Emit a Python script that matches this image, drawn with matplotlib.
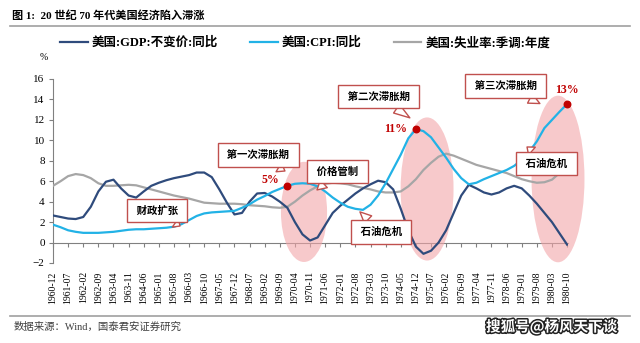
import numpy as np
import matplotlib
matplotlib.use("Agg")
import matplotlib.pyplot as plt
from matplotlib.patches import Ellipse
from matplotlib.lines import Line2D
import matplotlib.patheffects as pe

plt.rcParams['font.family'] = ['Liberation Serif', 'Noto Sans CJK SC', 'DejaVu Sans']

# tick labels, one every 7 months; series read at every half tick
tick_labels = [
    "1960-12", "1961-07", "1962-02", "1962-09", "1963-04", "1963-11", "1964-06",
    "1965-01", "1965-08", "1966-03", "1966-10", "1967-05", "1967-12", "1968-07",
    "1969-02", "1969-09", "1970-04", "1970-11", "1971-06", "1972-01", "1972-08",
    "1973-03", "1973-10", "1974-05", "1974-12", "1975-07", "1976-02", "1976-09",
    "1977-04", "1977-11", "1978-06", "1979-01", "1979-08", "1980-03", "1980-10",
]

gdp = [2.65, 2.5, 2.35, 2.3, 2.5, 3.5, 5.0, 5.95, 6.15, 5.3,
       4.6, 4.4, 5.0, 5.55, 5.85, 6.1, 6.3, 6.45, 6.6, 6.85,
       6.85, 6.4, 5.2, 3.9, 2.75, 2.9, 4.0, 4.8, 4.85, 4.5,
       4.0, 3.4, 2.0, 0.8, 0.2, 0.5, 1.7, 2.9, 3.6, 4.2,
       4.8, 5.3, 5.7, 6.05, 5.9, 5.2, 3.3, 1.2, -0.4, -1.1,
       -0.8, 0.0, 1.2, 2.9, 4.6, 5.65, 5.3, 4.9, 4.7, 4.9,
       5.3, 5.55, 5.3, 4.6, 3.8, 2.9, 2.0, 0.9, -0.2]

cpi = [1.75, 1.5, 1.2, 1.05, 0.95, 0.95, 0.95, 1.0, 1.05, 1.15,
       1.25, 1.3, 1.3, 1.35, 1.4, 1.45, 1.55, 1.8, 2.2, 2.6,
       2.85, 2.95, 3.0, 3.05, 3.1, 3.4, 3.75, 4.2, 4.55, 4.95,
       5.25, 5.55, 5.75, 5.8, 5.75, 5.5, 5.0, 4.4, 3.9, 3.5,
       3.3, 3.2, 3.7, 4.6, 5.8, 7.2, 8.6, 10.2, 11.1, 10.9,
       10.3, 9.3, 8.3, 7.2, 6.3, 5.7, 5.85, 6.2, 6.5, 6.8,
       7.1, 7.5, 8.1, 8.9, 9.9, 11.2, 12.0, 12.8, 13.55]

unemp = [5.55, 6.0, 6.5, 6.7, 6.6, 6.3, 5.8, 5.55, 5.55, 5.6,
         5.65, 5.6, 5.4, 5.2, 5.0, 4.8, 4.6, 4.45, 4.3, 4.1,
         3.9, 3.85, 3.8, 3.8, 3.8, 3.75, 3.65, 3.6, 3.55, 3.45,
         3.4, 3.5, 4.0, 4.6, 5.1, 5.5, 5.75, 5.85, 5.8, 5.7,
         5.5, 5.35, 5.2, 5.0, 4.9, 4.9, 5.0, 5.5, 6.2, 7.1,
         7.8, 8.4, 8.7, 8.5, 8.2, 7.9, 7.6, 7.4, 7.2, 7.0,
         6.8, 6.5, 6.2, 6.0, 5.85, 5.9, 6.15, 6.8]

# highlighted CPI points (index into cpi) and their labels
cpi_marks = [31, 48, 68]
cpi_mark_labels = ["5%", "11%", "13%"]

x = np.arange(len(gdp)) / 2.0
x_u = np.arange(len(unemp)) / 2.0

RED = "#C0504D"
DARK_RED = "#C00000"

fig = plt.figure(figsize=(6.4, 3.43), dpi=100)
ax = fig.add_axes([53 / 640, 80 / 343, 515 / 640, 184 / 343])

# shaded stagflation periods
for cx, cy, w, h in [(16.6, 3.0, 3.05, 9.8), (24.74, 5.24, 3.5, 14.0), (33.4, 6.22, 3.5, 16.3)]:
    ax.add_patch(Ellipse((cx, cy), w, h, facecolor="#F3A5A9", edgecolor="none",
                         alpha=0.6, zorder=1, clip_on=False))

ax.plot(x_u, unemp, color="#A6A6A6", lw=1.6, zorder=3, label="美国:失业率:季调:年度")
ax.plot(x, gdp, color="#2F4B7C", lw=1.6, zorder=4, label="美国:GDP:不变价:同比")
ax.plot(x, cpi, color="#22B2E6", lw=1.6, zorder=4, label="美国:CPI:同比")

mx = x[cpi_marks]
my = np.array(cpi)[cpi_marks]
ax.scatter(mx, my, s=22, color=DARK_RED, zorder=6, clip_on=False)
offsets = [(-1.1, 0.55), (-1.35, 0.0), (0.0, 1.35)]
for px, py, lab, (dx, dy) in zip(mx, my, cpi_mark_labels, offsets):
    ax.text(px + dx, py + dy, lab, color=DARK_RED, fontsize=8.5, fontweight="bold",
            ha="center", va="center", zorder=7)

ax.set_xlim(0, 34.06)
ax.set_ylim(-2, 16)
ax.set_yticks(np.arange(-2, 17, 2))
ax.tick_params(axis="y", labelsize=8, length=3, color="#808080", pad=3)
ax.set_xticks(np.arange(len(tick_labels)))
ax.set_xticklabels(tick_labels, rotation=90, fontsize=7)
ax.tick_params(axis="x", length=0, pad=6)
for s in ["top", "right", "bottom"]:
    ax.spines[s].set_visible(False)
ax.spines["left"].set_color("#808080")
ax.spines["left"].set_linewidth(0.8)

# x axis line drawn at zero
sec = ax.secondary_xaxis(2 / 18)
sec.set_xticks(np.arange(len(tick_labels)))
sec.tick_params(axis="x", labelbottom=False, length=3, color="#808080")
sec.spines["bottom"].set_color("#808080")
sec.spines["bottom"].set_linewidth(0.8)

# callout boxes
box = dict(boxstyle="square,pad=0.65", fc="white", ec=RED, lw=1.0)
arrow = dict(arrowstyle="wedge,tail_width=1.0", fc="white", ec=RED, lw=1.0,
             shrinkA=0, shrinkB=0)
callouts = [
    ("财政扩张", (8.4, 1.62), (6.88, 3.14)),
    ("第一次滞胀期", (15.34, 7.0), (13.56, 8.57)),
    ("价格管制", (17.46, 5.15), (18.82, 6.96)),
    ("石油危机", (20.3, 3.0), (21.69, 1.04)),
    ("第二次滞胀期", (23.6, 12.2), (21.53, 14.3)),
    ("第三次滞胀期", (32.2, 13.6), (29.93, 15.3)),
    ("石油危机", (31.35, 9.35), (32.64, 7.74)),
]
for txt, tip, pos in callouts:
    ax.annotate(" " + txt + " ", xy=tip, xytext=pos, fontsize=7.5, fontweight="bold",
                ha="center", va="center", bbox=box, arrowprops=arrow,
                zorder=8, annotation_clip=False)

fig.legend(loc="center", bbox_to_anchor=(0.477, 1 - 43 / 343), ncol=3,
           handles=[ax.lines[1], ax.lines[2], ax.lines[0]],
           frameon=False, handlelength=2.2, columnspacing=2.6,
           handletextpad=0.3, prop={"weight": "bold", "size": 9})

fig.text(12 / 640, 1 - 16 / 343, "图 1:  20 世纪 70 年代美国经济陷入滞涨",
         fontsize=8, fontweight="bold", va="center")
fig.add_artist(Line2D([10 / 640, 630 / 640], [1 - 26 / 343] * 2, color="#A0A0A0", lw=1.2))
fig.text(40 / 640, 1 - 58 / 343, "%", fontsize=7, va="center")

fig.add_artist(Line2D([10 / 640, 630 / 640], [1 - 316 / 343] * 2, color="#A0A0A0", lw=1.2))
fig.text(14 / 640, 1 - 327 / 343, "数据来源：Wind，国泰君安证券研究",
         fontsize=7.5, va="center", color="#404040")
fig.text(486 / 640, 1 - 327 / 343, "搜狐号@杨风天下谈", fontsize=10.5,
         fontweight="bold", color="white", va="center",
         family=["Noto Sans CJK SC", "DejaVu Sans"],
         path_effects=[pe.withStroke(linewidth=2.2, foreground="#222222")])

fig.savefig("out.png", dpi=100)
